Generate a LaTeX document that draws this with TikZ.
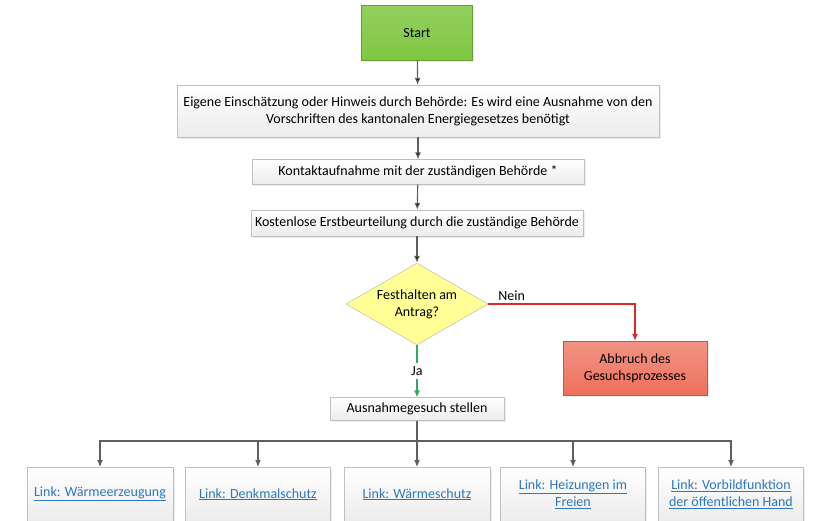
\documentclass[tikz,border=0pt]{standalone}
\usepackage{fontspec}
\setmainfont{Carlito}
\usetikzlibrary{shapes.geometric,shadows,arrows.meta}
\definecolor{startgreen}{RGB}{128,198,66}
\definecolor{stopred}{RGB}{238,112,92}
\definecolor{askyellow}{RGB}{255,255,150}
\definecolor{linkblue}{RGB}{45,120,190}
\definecolor{linegray}{RGB}{95,95,95}
\definecolor{yesgreen}{RGB}{40,175,95}
\definecolor{nored}{RGB}{225,40,40}
\newcommand{\linktext}[1]{\textcolor{linkblue}{\underline{#1}}}

\begin{document}
\begin{tikzpicture}[x=1pt,y=1pt,
	box/.style={rectangle,draw=gray!50,top color=white,bottom color=gray!15,
		drop shadow={opacity=0.15,shadow xshift=1.5pt,shadow yshift=-1.5pt},
		align=center,font=\fontsize{14}{17}\selectfont,inner sep=2pt},
	flow/.style={draw=linegray,line width=1.1pt,-{Latex[length=7pt,width=6pt]}},
	lbl/.style={text=black,font=\fontsize{14}{17}\selectfont}]
	\useasboundingbox (0,0) rectangle (820,-520);
	\clip (0,0) rectangle (820,-520);

	\node[box,top color=startgreen!85!white,bottom color=startgreen,draw=startgreen!80!black,
		minimum width=111,minimum height=55] at (417,-33) (start) {Start};
	\node[box,minimum width=482,minimum height=52] at (418,-111) (need)
		{Eigene Einschätzung oder Hinweis durch Behörde: Es wird eine Ausnahme von den\\
		 Vorschriften des kantonalen Energiegesetzes benötigt};
	\node[box,minimum width=332,minimum height=25] at (418,-172) (contact)
		{Kontaktaufnahme mit der zuständigen Behörde *};
	\node[box,minimum width=332,minimum height=26] at (417,-223) (check)
		{Kostenlose Erstbeurteilung durch die zuständige Behörde};
	\node[diamond,draw=gray!60,fill=askyellow,aspect=1.73,inner sep=0pt,
		minimum width=142,minimum height=82,align=center,
		font=\fontsize{14}{17}\selectfont] at (417,-304) (hold) {Festhalten am\\Antrag?};
	\node[box,top color=stopred!75!white,bottom color=stopred,draw=stopred!80!black,
		minimum width=144,minimum height=54] at (635,-368) (abort)
		{Abbruch des\\Gesuchsprozesses};
	\node[box,minimum width=174,minimum height=23] at (417,-409) (apply)
		{Ausnahmegesuch stellen};
	\coordinate (fork) at (417,-441);

	\node[box,minimum width=146,minimum height=54,anchor=north] at (100,-467) (heat)
		{\linktext{Link: Wärmeerzeugung}};
	\node[box,minimum width=145,minimum height=54,anchor=north] at (258,-467) (monument)
		{\linktext{Link: Denkmalschutz}};
	\node[box,minimum width=146,minimum height=54,anchor=north] at (417,-467) (insul)
		{\linktext{Link: Wärmeschutz}};
	\node[box,minimum width=145,minimum height=54,anchor=north] at (573,-467) (outdoor)
		{\linktext{Link: Heizungen im}\\\linktext{Freien}};
	\node[box,minimum width=145,minimum height=54,anchor=north] at (731,-467) (public)
		{\linktext{Link: Vorbildfunktion}\\\linktext{der öffentlichen Hand}};

	\path[flow] (start) edge (need)
		(need) edge (contact)
		(contact) edge (check)
		(check) edge (hold);
	\draw[flow,draw=nored] (hold.east) -| node[pos=0.08,above,lbl] {Nein} (abort.north);
	\draw[flow,draw=yesgreen] (hold.south) -- node[fill=white,lbl] {Ja} (apply.north);
	\draw[draw=linegray,line width=1.1pt] (apply.south) -- (fork);
	\foreach \target in {heat,monument,insul,outdoor,public}
		\draw[flow] (fork) -| (\target.north);
\end{tikzpicture}
\end{document}
